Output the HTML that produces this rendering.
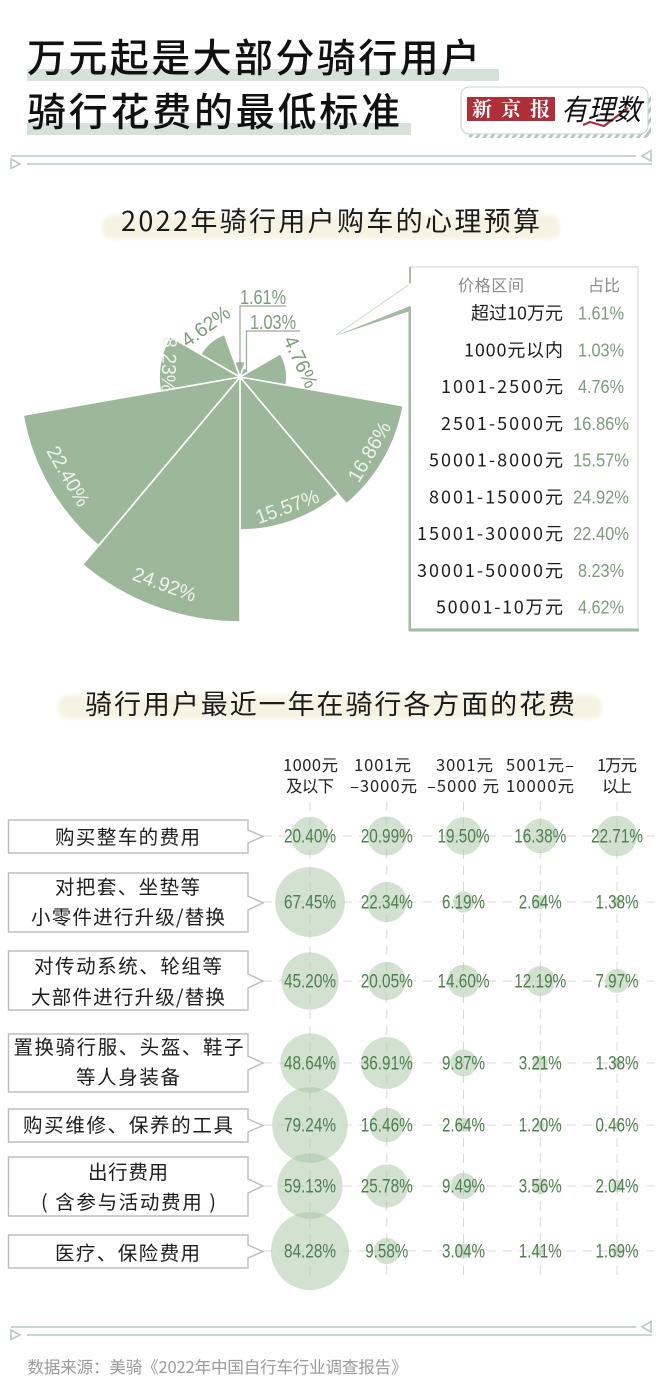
<!DOCTYPE html>
<html lang="zh-CN">
<head>
<meta charset="utf-8">
<title>万元起是大部分骑行用户骑行花费的最低标准</title>
<style>
html,body{margin:0;padding:0;background:#fff;}
svg{display:block;}
text{font-family:"Liberation Sans","Noto Sans CJK SC",sans-serif;}
.cjk{font-family:"Noto Sans CJK SC","Liberation Sans",sans-serif;}
</style>
</head>
<body>
<svg id="page" xmlns="http://www.w3.org/2000/svg" width="660" height="1399" viewBox="0 0 660 1399">
  <defs>
    <pattern id="hatch" width="6" height="6" patternUnits="userSpaceOnUse" patternTransform="rotate(35)">
      <rect width="6" height="6" fill="#fff"/>
      <rect width="3" height="6" fill="#b9c6bd"/>
    </pattern>
    <filter id="soft" x="-5%" y="-30%" width="110%" height="160%"><feGaussianBlur stdDeviation="2"/></filter>
  </defs>

  <rect x="27" y="69" width="472" height="12" fill="#d6e1da"/>
  <rect x="27" y="123" width="384" height="12" fill="#d6e1da"/>
  <text class="cjk" x="27" y="72" font-size="39" font-weight="500" fill="#111" textLength="453" lengthAdjust="spacing">万元起是大部分骑行用户</text>
  <text class="cjk" x="27" y="126" font-size="39" font-weight="500" fill="#111" textLength="373" lengthAdjust="spacing">骑行花费的最低标准</text>

  <g>
    <rect x="466" y="92" width="185" height="46" rx="7" fill="url(#hatch)"/>
    <rect x="461" y="87" width="187" height="47" rx="8" fill="#fff" stroke="#c9d2cc" stroke-width="1"/>
    <rect x="467" y="97" width="88" height="24" fill="#ae2f38"/>
    <text x="511" y="116" text-anchor="middle" font-size="20" font-weight="700" fill="#fff" style="font-family:'Noto Serif CJK SC',serif" textLength="78" lengthAdjust="spacing">新京报</text>
    <polyline points="583,125 590,122 604,126 628,108" fill="none" stroke="#ae2f38" stroke-width="2.2"/>
    <text class="cjk" x="0" y="0" font-size="29" fill="#111" transform="translate(561,120) skewX(-14)" textLength="80" lengthAdjust="spacingAndGlyphs">有理数</text>
  </g>

  <g fill="none" stroke="#bcc8c0" stroke-width="1.6">
    <line x1="11" y1="156" x2="636" y2="156"/>
    <line x1="27" y1="164" x2="652" y2="164"/>
    <polygon points="651,150.5 651,161 642,156"/>
    <polygon points="11,159 11,168.5 20,164"/>
  </g>

  <rect x="102" y="215" width="458" height="24" rx="10" fill="#f5f4e3" filter="url(#soft)"/>
  <text class="cjk" x="121" y="231" font-size="27" fill="#1a1a1a" textLength="419" lengthAdjust="spacing">2022年骑行用户购车的心理预算</text>

  <g id="rose"></g>

  <g fill="none" stroke="#9aaa9a" stroke-width="1.2">
    <polyline points="286,306 240,306 240,364"/>
    <polyline points="300,331 246.5,331 246.5,371"/>
  </g>

  <g>
    <polygon points="410,284 335,336 410,307 638,307 638,267 410,267" fill="#fff"/>
    <rect x="410" y="267" width="228" height="362" fill="#fff" stroke="#d8dcd8" stroke-width="1.2"/>
    <rect x="409" y="267" width="2" height="16" fill="#a9bca9"/>
    <rect x="408.5" y="307" width="2.5" height="324" fill="#a5b9a5"/>
    <rect x="409" y="628.5" width="230" height="3" fill="#a5b9a5"/>
    <line x1="410" y1="284" x2="336" y2="335" stroke="#cdd6cd" stroke-width="1"/>
    <polygon points="410,306 335,336 410,311" fill="#a5b9a5"/>
    <rect x="408" y="284" width="4" height="22" fill="#fff"/>
  </g>
  <text class="cjk" x="458" y="291" font-size="16" fill="#8a8a8a" textLength="66" lengthAdjust="spacing">价格区间</text>
  <text class="cjk" x="588" y="291" font-size="16" fill="#8a8a8a" textLength="32" lengthAdjust="spacing">占比</text>
  <g id="legend"></g>

  <rect x="58" y="695" width="544" height="24" rx="10" fill="#f5f4e3" filter="url(#soft)"/>
  <text class="cjk" x="85" y="714" font-size="27" fill="#1a1a1a" textLength="490" lengthAdjust="spacing">骑行用户最近一年在骑行各方面的花费</text>

  <g font-size="16.5" fill="#222">
    <text class="cjk" x="283" y="771" textLength="55" lengthAdjust="spacing">1000元</text>
    <text class="cjk" x="286" y="792" textLength="48" lengthAdjust="spacing">及以下</text>
    <text class="cjk" x="354" y="771" textLength="57" lengthAdjust="spacing">1001元</text>
    <text class="cjk" x="350" y="792" textLength="67" lengthAdjust="spacing">–3000元</text>
    <text class="cjk" x="436" y="771" textLength="57" lengthAdjust="spacing">3001元</text>
    <text class="cjk" x="427" y="792" textLength="72" lengthAdjust="spacing">–5000 元</text>
    <text class="cjk" x="506" y="771" textLength="68" lengthAdjust="spacing">5001元–</text>
    <text class="cjk" x="506" y="792" textLength="68" lengthAdjust="spacing">10000元</text>
    <text class="cjk" x="597" y="771" textLength="40" lengthAdjust="spacing">1万元</text>
    <text class="cjk" x="602" y="792" textLength="30" lengthAdjust="spacing">以上</text>
  </g>

  <g id="grid"></g>

  <g fill="#fff" stroke="#bdbdbd" stroke-width="1.4" stroke-linejoin="miter">
    <path d="M8.5 820H248V830L263 836.5L248 843V853H8.5Z"/>
    <path d="M8.5 873H248V896L263 903L248 910V932H8.5Z"/>
    <path d="M8.5 951H248V974L263 981L248 988V1010H8.5Z"/>
    <path d="M8.5 1034H248V1056L263 1063L248 1070V1092H8.5Z"/>
    <path d="M8.5 1109H248V1119L263 1125.5L248 1132V1142H8.5Z"/>
    <path d="M8.5 1157H248V1179L263 1186L248 1193V1216H8.5Z"/>
    <path d="M8.5 1235H248V1245L263 1251.5L248 1258V1268H8.5Z"/>
  </g>
  <g font-size="19.5" fill="#1c1c1c">
    <text class="cjk" x="55" y="844" textLength="145" lengthAdjust="spacing">购买整车的费用</text>
    <text class="cjk" x="55" y="894" textLength="145" lengthAdjust="spacing">对把套、坐垫等</text>
    <text class="cjk" x="31" y="924" textLength="194" lengthAdjust="spacing">小零件进行升级/替换</text>
    <text class="cjk" x="34" y="973" textLength="188" lengthAdjust="spacing">对传动系统、轮组等</text>
    <text class="cjk" x="31" y="1004" textLength="194" lengthAdjust="spacing">大部件进行升级/替换</text>
    <text class="cjk" x="13.5" y="1054" textLength="230" lengthAdjust="spacing">置换骑行服、头盔、鞋子</text>
    <text class="cjk" x="76" y="1084" textLength="104" lengthAdjust="spacing">等人身装备</text>
    <text class="cjk" x="23" y="1132" textLength="210" lengthAdjust="spacing">购买维修、保养的工具</text>
    <text class="cjk" x="88" y="1179" textLength="80" lengthAdjust="spacing">出行费用</text>
    <text class="cjk" x="41" y="1209" textLength="175" lengthAdjust="spacing">( 含参与活动费用 )</text>
    <text class="cjk" x="55" y="1260" textLength="145" lengthAdjust="spacing">医疗、保险费用</text>
  </g>

  <g fill="none" stroke="#bcc8c0" stroke-width="1.6">
    <line x1="11" y1="1327" x2="636" y2="1327"/>
    <line x1="27" y1="1335" x2="652" y2="1335"/>
    <polygon points="651,1321.5 651,1332 642,1327"/>
    <polygon points="11,1330 11,1339.5 20,1335"/>
  </g>

  <text class="cjk" x="27.5" y="1373" font-size="16.5" fill="#9a9a9a" textLength="380" lengthAdjust="spacing">数据来源：美骑《2022年中国自行车行业调查报告》</text>
</svg>

<script>
/* Rose chart data */
var priceRanges = ['超过10万元','1000元以内','1001-2500元','2501-5000元','50001-8000元','8001-15000元','15001-30000元','30001-50000元','50001-10万元'];
var priceShares = [1.61,1.03,4.76,16.86,15.57,24.92,22.40,8.23,4.62];

/* Bubble matrix data: one array per spending category, one value per budget column */
var wholeBikeShares = [20.40,20.99,19.50,16.38,22.71];
var smallPartsShares = [67.45,22.34,6.19,2.64,1.38];
var largePartsShares = [45.20,20.05,14.60,12.19,7.97];
var apparelShares = [48.64,36.91,9.87,3.21,1.38];
var toolsShares = [79.24,16.46,2.64,1.20,0.46];
var travelShares = [59.13,25.78,9.49,3.56,2.04];
var medicalShares = [84.28,9.58,3.04,1.41,1.69];
var bubbleRows = [wholeBikeShares,smallPartsShares,largePartsShares,apparelShares,toolsShares,travelShares,medicalShares];

var NS = 'http://www.w3.org/2000/svg';
function pct(v){ return v.toFixed(2) + '%'; }
function make(tag, parent){
  var el = document.createElementNS(NS, tag);
  parent.appendChild(el);
  return el;
}

/* Rose axes */
function roseRadius(v){ return v * 9.83; }
function roseStart(i){ return -20 + i * 40; }
function polar(deg, r){
  var a = deg * Math.PI / 180;
  return [240 + r * Math.sin(a), 377 - r * Math.cos(a)];
}
function roseText(mid, outside){
  var rot = mid - 180;
  if (rot < -90) rot += 180;
  if (rot >= 110) rot -= 180;
  if (outside) rot += rot > 0 ? -15 : 4;
  else if (rot > 90) rot = 92;
  return rot;
}

var rose = document.getElementById('rose');
priceShares.forEach(function(v, i){
  var a0 = roseStart(i), a1 = a0 + 40, r = roseRadius(v);
  var p0 = polar(a0, r), p1 = polar(a1, r);
  var slice = make('path', rose);
  
  
  slice.setAttribute('d', 'M240 377L' + p0[0] + ' ' + p0[1] + 'A' + r + ' ' + r + ' 0 0 1 ' + p1[0] + ' ' + p1[1] + 'Z');
  slice.setAttribute('fill', '#9db79a');
  slice.setAttribute('stroke', '#fff');
  slice.setAttribute('stroke-width', '1.6');
  slice.setAttribute('stroke-linejoin', 'bevel');
});

priceShares.forEach(function(v, i){
  var mid = roseStart(i) + 20, r = roseRadius(v), label = make('text', rose);
  
  
  var w = pct(v).length * 11;
  label.setAttribute('font-size', '20');
  label.setAttribute('textLength', String(w));
  label.setAttribute('lengthAdjust', 'spacingAndGlyphs');
  label.textContent = pct(v);
  if (v < 2) {
    label.setAttribute('fill', '#7d9b7d');
    label.setAttribute('x', String(i === 0 ? 240 : 250));
    label.setAttribute('y', String(i === 0 ? 304 : 329));
    label.setAttribute('textLength', '46');
    return;
  }
  var outside = v < 6;
  var anchorAngle = outside ? mid + (mid > 180 ? 6 : -4) : mid;
  var c = polar(anchorAngle, outside ? r + 16 : r - Math.max(9, r * 0.1));
  label.setAttribute('fill', outside ? '#7d9b7d' : '#eef3ec');
  label.setAttribute('text-anchor', 'middle');
  label.setAttribute('x', '0');
  label.setAttribute('y', '7');
  label.setAttribute('transform', 'translate(' + c[0] + ' ' + c[1] + ') rotate(' + roseText(mid, outside) + ')');
});

/* Legend table */
function legendY(i){ return 313 + i * 36.75; }
function labelWidth(s){
  var w = 0;
  for (var k = 0; k < s.length; k++) {
    var ch = s.charAt(k);
    if (ch === '-') w += 9;
    else if (ch >= '0' && ch <= '9') w += 12;
    else w += 17;
  }
  return w;
}
var legend = document.getElementById('legend');
priceRanges.forEach(function(name, i){
  var w = labelWidth(name);
  var t = make('text', legend);
  
  
  t.setAttribute('class', 'cjk');
  t.setAttribute('x', String(563 - w));
  t.setAttribute('y', String(legendY(i) + 6.5));
  t.setAttribute('font-size', '18');
  t.setAttribute('fill', '#1c1c1c');
  t.setAttribute('textLength', String(w));
  t.setAttribute('lengthAdjust', 'spacing');
  t.textContent = name;
  var valueText = pct(priceShares[i]);
  var vw = valueText.length === 6 ? 56 : 46;
  var val = make('text', legend);
  
  
  val.setAttribute('x', String(601 - vw / 2));
  val.setAttribute('y', String(legendY(i) + 6.5));
  val.setAttribute('font-size', '18');
  val.setAttribute('fill', '#7d9b7d');
  val.setAttribute('textLength', String(vw));
  val.setAttribute('lengthAdjust', 'spacingAndGlyphs');
  val.textContent = valueText;
});

/* Bubble axes */
function colX(c){ return 310 + c * 76.75; }
function rowY(r){ return [836,902,981,1063,1125,1186,1251][r]; }
function bubbleR(v){ return 4.25 * Math.sqrt(v); }

var grid = document.getElementById('grid');
[0,1,2,3,4].forEach(function(c){
  var line = make('line', grid);
  
  
  line.setAttribute('x1', String(colX(c)));
  line.setAttribute('x2', String(colX(c)));
  line.setAttribute('y1', '802');
  line.setAttribute('y2', '1279');
  line.setAttribute('stroke', '#d8d8d8');
  line.setAttribute('stroke-width', '1');
  line.setAttribute('stroke-dasharray', '9 7');
});
bubbleRows.forEach(function(row, r){
  var line = make('line', grid);
  
  
  line.setAttribute('x1', '263');
  line.setAttribute('x2', '655');
  line.setAttribute('y1', String(rowY(r)));
  line.setAttribute('y2', String(rowY(r)));
  line.setAttribute('stroke', '#d8d8d8');
  line.setAttribute('stroke-width', '1');
  line.setAttribute('stroke-dasharray', '9 7');
});
bubbleRows.forEach(function(row, r){
  row.forEach(function(v, c){
    var b = make('circle', grid);
    
    
    b.setAttribute('cx', String(colX(c)));
    b.setAttribute('cy', String(rowY(r)));
    b.setAttribute('r', String(bubbleR(v)));
    b.setAttribute('fill', '#a8c3a4');
    b.setAttribute('fill-opacity', '0.5');
  });
});
bubbleRows.forEach(function(row, r){
  row.forEach(function(v, c){
    var s = pct(v);
    var w = s.length === 6 ? 52 : 43;
    var t = make('text', grid);
    
    
    t.setAttribute('x', String(colX(c) - w / 2));
    t.setAttribute('y', String(rowY(r) + 6.5));
    t.setAttribute('font-size', '19');
    t.setAttribute('fill', '#4f7f4f');
    t.setAttribute('textLength', String(w));
    t.setAttribute('lengthAdjust', 'spacingAndGlyphs');
    t.textContent = s;
  });
});
</script>
</body>
</html>
